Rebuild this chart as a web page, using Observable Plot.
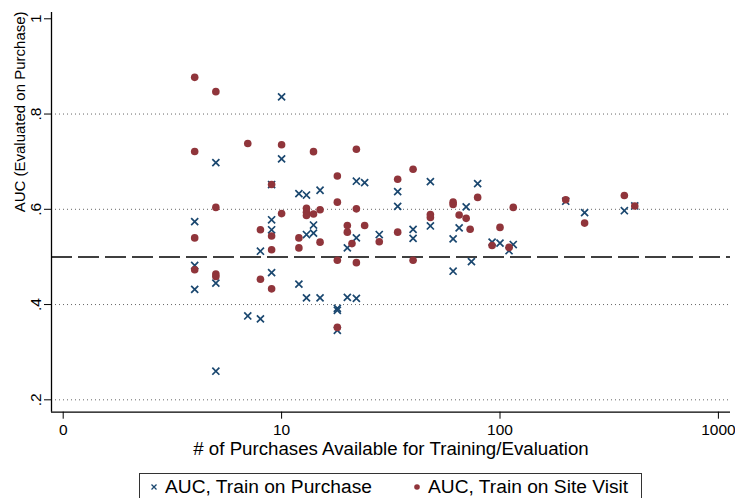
<!DOCTYPE html>
<html>
<head>
<meta charset="utf-8">
<script src="https://cdn.jsdelivr.net/npm/d3@7"></script>
<script src="https://cdn.jsdelivr.net/npm/@observablehq/plot@0.6"></script>
<style>
  html, body { margin: 0; padding: 0; background: #fff; }
  body { width: 735px; height: 498px; position: relative; overflow: hidden; font-family: "Liberation Sans", Arial, sans-serif; }
  #chart { position: absolute; left: 0; top: 0; }
  #legend { position: absolute; left: 139px; top: 473px; width: 503px; height: 34px; border: 1px solid #333; box-sizing: border-box; font-size: 19.2px; color: #000; }
  .item { position: absolute; top: 2px; white-space: nowrap; display: flex; align-items: center; }
  .item svg { margin-right: 7px; }
</style>
</head>
<body>
<div id="chart"></div>
<div id="legend">
  <div class="item" style="left:10px"><svg width="8" height="8" viewBox="-4 -4 8 8"><path d="M-2.5,-2.5L2.5,2.5M-2.5,2.5L2.5,-2.5" stroke="#1a476f" stroke-width="1.3"/></svg><span>AUC, Train on Purchase</span></div>
  <div class="item" style="left:273px"><svg width="8" height="8" viewBox="-4 -4 8 8"><circle r="2.8" fill="#90353b"/></svg><span>AUC, Train on Site Visit</span></div>
</div>
<script>
// Number of purchases and AUC, model trained on purchases (× markers)
const purchaseN = [4,4,4, 5,5,5, 7, 8,8, 9,9,9,9, 10,10, 12,12, 13,13,13, 14,14, 15,15, 18,18,18, 20,20, 22,22,22, 24, 28, 34,34, 40,40, 48,48, 61,61, 65, 70, 74, 79, 92, 100, 110, 115, 200, 244, 371, 414];
const purchaseAUC = [0.574,0.482,0.432, 0.698,0.445,0.260, 0.376, 0.512,0.370, 0.652,0.578,0.557,0.467, 0.836,0.706, 0.633,0.443, 0.630,0.547,0.414, 0.567,0.550, 0.640,0.414, 0.392,0.388,0.346, 0.519,0.415, 0.659,0.540,0.413, 0.656, 0.547, 0.637,0.606, 0.558,0.539, 0.658,0.565, 0.538,0.470, 0.561, 0.605, 0.490, 0.654, 0.531, 0.529, 0.513, 0.526, 0.617, 0.593, 0.597, 0.607];

// Number of purchases and AUC, model trained on site visits (● markers)
const siteVisitN = [4,4,4,4, 5,5,5,5, 7, 8,8, 9,9,9,9, 10,10, 12,12, 13,13,13, 14,14, 15,15, 18,18,18,18, 20,20, 21, 22,22,22, 24, 28, 34,34, 40,40, 48,48, 61,61, 65, 70, 73, 79, 92, 100, 110, 115, 200, 244, 371, 414];
const siteVisitAUC = [0.877,0.7215,0.540,0.473, 0.847,0.604,0.464,0.459, 0.738, 0.557,0.453, 0.652,0.544,0.515,0.433, 0.7355,0.591, 0.540,0.519, 0.602,0.594,0.587, 0.721,0.590, 0.599,0.531, 0.670,0.615,0.493,0.352, 0.566,0.552, 0.528, 0.726,0.601,0.488, 0.566, 0.532, 0.663,0.552, 0.684,0.493, 0.589,0.583, 0.615,0.610, 0.588, 0.581, 0.558, 0.625, 0.524, 0.562, 0.520, 0.604, 0.620, 0.571, 0.629, 0.607];

const xTicks = [1, 10, 100, 1000];
const xTickLabels = ["0", "10", "100", "1000"];
const yTicks = [0.2, 0.4, 0.6, 0.8, 1];
const yTickLabels = [".2", ".4", ".6", ".8", "1"];
const gridValues = [0.2, 0.4, 0.6, 0.8];
const referenceAUC = [0.5];
const xTitle = "# of Purchases Available for Training/Evaluation";
const yTitle = "AUC (Evaluated on Purchase)";

const purchase = purchaseN.map((n, i) => ({n, auc: purchaseAUC[i]}));
const siteVisit = siteVisitN.map((n, i) => ({n, auc: siteVisitAUC[i]}));

const xDomain = [0.884, 1136];
const yDomain = [0.174, 1.0132];

const chart = Plot.plot({
  width: 735,
  height: 462,
  marginLeft: 51,
  marginRight: 5,
  marginTop: 12,
  marginBottom: 50.3,
  style: {fontFamily: '"Liberation Sans", Arial, sans-serif', background: "#fff", color: "#000", overflow: "visible"},
  x: {type: "log", domain: xDomain},
  y: {domain: yDomain},
  marks: [
    Plot.ruleY(gridValues, {stroke: "#666", strokeDasharray: "1,3", strokeWidth: 1}),
    Plot.ruleY(referenceAUC, {stroke: "#000", strokeDasharray: "21,6", strokeWidth: 1.4}),
    Plot.ruleX([xDomain[0]], {stroke: "#000", strokeWidth: 1.3}),
    Plot.ruleY([yDomain[0]], {stroke: "#000", strokeWidth: 1.3}),
    Plot.axisX({ticks: xTicks, tickFormat: (d) => xTickLabels[xTicks.indexOf(d)], tickSize: 7, tickPadding: 5, fontSize: 15.5, label: null, stroke: "#000"}),
    Plot.axisY({ticks: yTicks, tickFormat: (d) => yTickLabels[yTicks.indexOf(d)], tickSize: 7, tickPadding: 4, tickRotate: -90, fontSize: 15.5, label: null, stroke: "#000"}),
    Plot.text([xTitle], {frameAnchor: "bottom", dy: 37, fontSize: 18.7, lineAnchor: "middle"}),
    Plot.text([yTitle], {frameAnchor: "left", dx: -31, rotate: -90, fontSize: 15, lineAnchor: "middle"}),
    Plot.dot(purchase, {x: "n", y: "auc", symbol: "times", r: 3.3, stroke: "#1a476f", strokeWidth: 1.7}),
    Plot.dot(siteVisit, {x: "n", y: "auc", r: 3.8, fill: "#90353b"})
  ]
});
document.getElementById("chart").appendChild(chart);
</script>
</body>
</html>
